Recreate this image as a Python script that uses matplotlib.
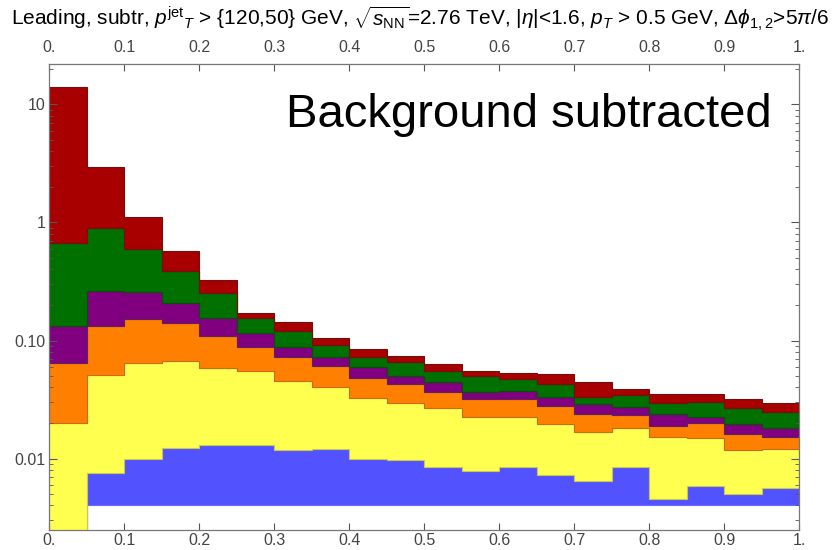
import matplotlib
matplotlib.use("Agg")
import matplotlib.pyplot as plt
import numpy as np
from matplotlib.ticker import FixedLocator, LogLocator, NullFormatter

# bin edges in z, 20 bins of width 0.05
bin_edges = np.linspace(0, 1, 21)

# cumulative tops of each stacked layer
blue_top = [0.002, 0.0075, 0.0100, 0.0122, 0.0130, 0.0130, 0.0118, 0.0120, 0.0100, 0.0097,
            0.0085, 0.0079, 0.0085, 0.0072, 0.0065, 0.0084, 0.0045, 0.0059, 0.0050, 0.0056]
yellow_top = [0.0199, 0.051, 0.0649, 0.067, 0.058, 0.0555, 0.0454, 0.0406, 0.0326, 0.0294,
              0.0266, 0.0226, 0.0223, 0.0198, 0.0169, 0.0183, 0.0153, 0.0148, 0.0118, 0.0120]
orange_top = [0.064, 0.1336, 0.152, 0.1416, 0.110, 0.0887, 0.072, 0.0612, 0.0484, 0.0428,
              0.0369, 0.0317, 0.0318, 0.0280, 0.0238, 0.0234, 0.0190, 0.0199, 0.0160, 0.0151]
purple_top = [0.1336, 0.263, 0.256, 0.2065, 0.156, 0.115, 0.0887, 0.072, 0.060, 0.0503,
              0.0442, 0.0369, 0.0376, 0.0334, 0.0290, 0.0275, 0.0238, 0.0223, 0.0196, 0.0180]
green_top = [0.676, 0.90, 0.596, 0.390, 0.251, 0.156, 0.121, 0.0916, 0.0729, 0.0662,
             0.0555, 0.050, 0.0469, 0.0431, 0.0334, 0.0345, 0.0297, 0.0303, 0.0266, 0.0249]
red_top = [14.2, 2.93, 1.11, 0.575, 0.326, 0.170, 0.144, 0.106, 0.0847, 0.0739,
           0.0632, 0.0555, 0.0534, 0.0525, 0.0442, 0.0386, 0.0354, 0.0350, 0.0317, 0.0294]
blue_base = 0.004

x_ticks = np.arange(0, 1.01, 0.1)
x_tick_labels = ["0.", "0.1", "0.2", "0.3", "0.4", "0.5", "0.6", "0.7", "0.8", "0.9", "1."]
y_ticks = [0.01, 0.1, 1, 10]
y_tick_labels = ["0.01", "0.10", "1", "10"]

title = (r"Leading, subtr, $p^{\rm jet}{}_T$ > {120,50} GeV, $\sqrt{s_{\rm NN}}$=2.76 TeV, "
         r"|$\eta$|<1.6, $p_T$ > 0.5 GeV, $\Delta\phi_{1,2}$>5$\pi$/6")


def main():
    plot_stack()


def plot_stack():
    plt.rcParams['font.family'] = ['Liberation Sans', 'DejaVu Sans']
    plt.rcParams['mathtext.fontset'] = 'custom'
    plt.rcParams['mathtext.rm'] = 'Liberation Sans'
    plt.rcParams['mathtext.it'] = 'Liberation Sans:italic'

    fig = plt.figure(figsize=(8.36, 5.5), dpi=100)
    ax = fig.add_axes([0.059, 0.0364, 0.8973, 0.8467])

    blue = np.array(blue_top)
    layers = [
        (np.minimum(blue_base, blue), blue, '#5252ff', '#6a6aff'),
        (blue, np.array(yellow_top), '#ffff50', '#c8c850'),
        (np.array(yellow_top), np.array(orange_top), '#ff8000', '#c86a20'),
        (np.array(orange_top), np.array(purple_top), '#800080', '#602060'),
        (np.array(purple_top), np.array(green_top), '#007000', '#104a10'),
        (np.array(green_top), np.array(red_top), '#a80000', '#701010'),
    ]
    for lower, upper, face, edge in layers:
        ax.stairs(upper, bin_edges, baseline=lower, fill=True,
                  facecolor=face, edgecolor=edge, linewidth=0.8)

    ax.set_yscale('log')
    ax.set_xlim(0, 1)
    ax.set_ylim(0.00248, 21.9)

    ax.xaxis.set_major_locator(FixedLocator(x_ticks))
    ax.set_xticklabels(x_tick_labels)
    ax.yaxis.set_major_locator(FixedLocator(y_ticks))
    ax.set_yticklabels(y_tick_labels)
    ax.yaxis.set_minor_locator(LogLocator(base=10, subs=np.arange(2, 10)))
    ax.yaxis.set_minor_formatter(NullFormatter())

    ax.tick_params(axis='both', which='both', direction='in', top=True, right=True,
                   labeltop=False, labelbottom=True, color='#555555',
                   labelcolor='#444444', labelsize=11.5)
    ax.tick_params(axis='x', which='major', length=5, width=0.8, pad=2)
    ax.tick_params(axis='y', which='major', length=6, width=0.8, pad=3)
    ax.tick_params(axis='y', which='minor', length=3, width=0.6)
    for spine in ax.spines.values():
        spine.set_color('#777777')
        spine.set_linewidth(0.9)

    top = ax.secondary_xaxis('top')
    top.xaxis.set_major_locator(FixedLocator(x_ticks))
    top.set_xticklabels(x_tick_labels)
    top.tick_params(axis='x', direction='in', length=0, pad=7,
                    labelcolor='#444444', labelsize=11.5)
    top.spines['top'].set_visible(False)

    ax.text(0.315, 0.865, "Background subtracted", transform=ax.transAxes,
            fontsize=34, color='black', va='baseline')

    fig.text(0.503, 0.966, title, ha='center', va='center', fontsize=15, color='black')

    fig.savefig('out.png', dpi=100)


if __name__ == "__main__":
    main()
